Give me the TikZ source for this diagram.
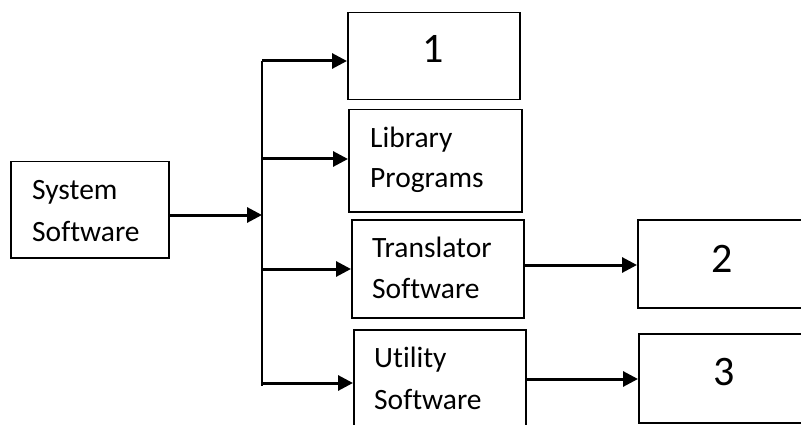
\documentclass[tikz,border=0pt]{standalone}
\usepackage{fontspec}
\setmainfont{Carlito}[Ligatures=NoCommon]
\usetikzlibrary{arrows.meta}
\tikzset{
  box/.style={draw, line width=1.5pt, anchor=north west, inner sep=0pt},
  txt/.style={anchor=base west, inner sep=0pt, font=\fontsize{29.5}{40}\selectfont},
  num/.style={anchor=base, inner sep=0pt, font=\fontsize{42}{48}\selectfont},
  arr/.style={line width=3pt, -{Triangle[length=15pt,width=15pt]}, shorten >=0pt},
  bus/.style={line width=2.2pt}
}
\begin{document}
\begin{tikzpicture}[x=1pt,y=-1pt]
\useasboundingbox (0,0) rectangle (801,425);
\clip (0,0) rectangle (801,425);
% boxes
\node[box, minimum width=158pt, minimum height=96pt] (sys) at (10,161) {};
\node[box, minimum width=172pt, minimum height=87pt] (b1) at (347,12) {};
\node[box, minimum width=173pt, minimum height=102pt] (lib) at (348,109) {};
\node[box, minimum width=172pt, minimum height=98pt] (tr) at (351,219) {};
\node[box, minimum width=172pt, minimum height=110pt] (ut) at (353,329) {};
\node[box, minimum width=172pt, minimum height=88pt] (b2) at (637,219) {};
\node[box, minimum width=172pt, minimum height=89pt] (b3) at (638,333) {};
% texts
\node[txt] (sys1) at (32,200) {System};
\node[txt] (sys2) at (32,241) {Software};
\node[txt] (lib1) at (370,148) {Library};
\node[txt] (lib2) at (370,188) {Programs};
\node[txt] (tr1) at (372,257) {Translator};
\node[txt] (tr2) at (372,298) {Software};
\node[txt] (ut1) at (374,367) {Utility};
\node[txt] (ut2) at (374,409) {Software};
\node[num] (n1) at (433,63) {1};
\node[num] (n2) at (722,272) {2};
\node[num] (n3) at (724,385) {3};
% bus
\coordinate (top) at (262,61);
\coordinate (bot) at (262,386);
\coordinate (j) at (262,215);
\coordinate (c1) at (262,61);
\coordinate (c2) at (262,159);
\coordinate (c3) at (262,269);
\coordinate (c4) at (262,383);
\draw[bus] (top) -- (bot);
\draw[arr] (sys.east |- j) -- (j);
\draw[arr] (c1) -- (c1 -| b1.west);
\draw[arr] (c2) -- (c2 -| lib.west);
\draw[arr] (c3) -- (c3 -| tr.west);
\draw[arr] (c4) -- (c4 -| ut.west);
\coordinate (d2) at (523,265);
\coordinate (d3) at (525,379);
\draw[arr] (d2) -- (d2 -| b2.west);
\draw[arr] (d3) -- (d3 -| b3.west);
\end{tikzpicture}
\end{document}
